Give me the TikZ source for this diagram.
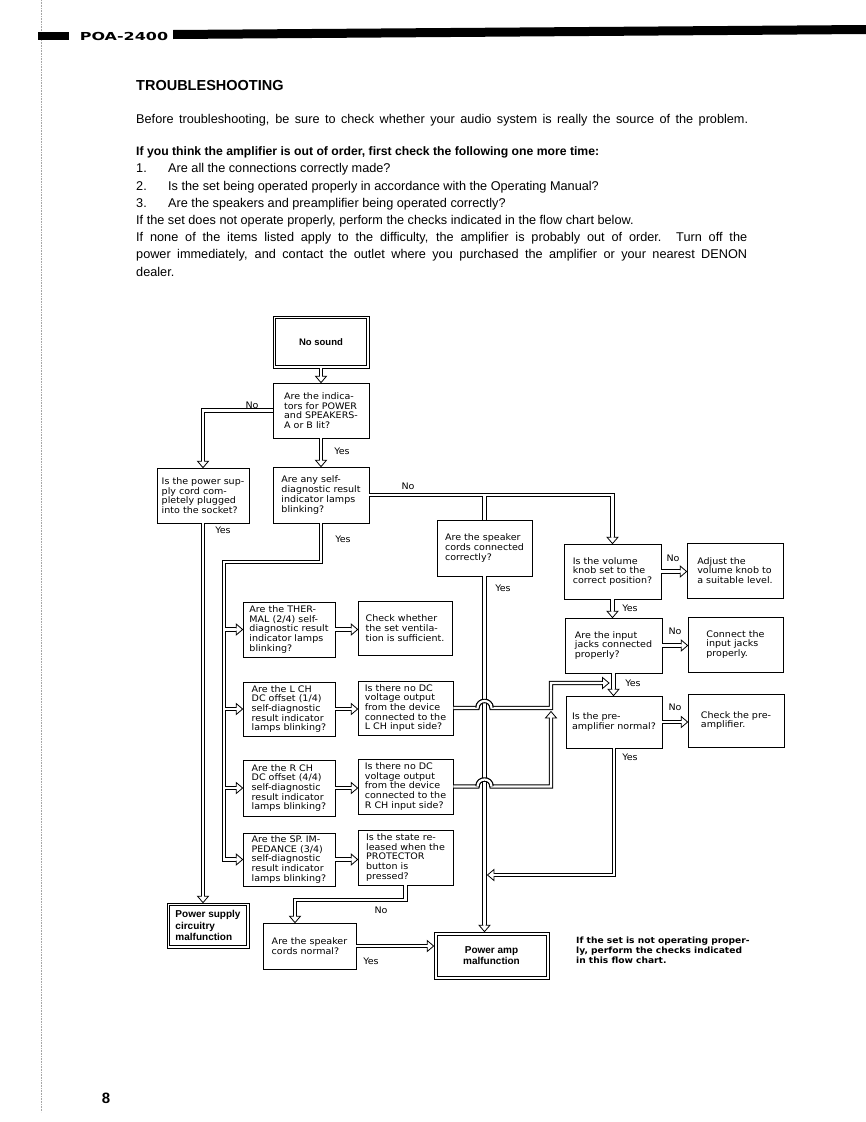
\documentclass[tikz,border=0pt]{standalone}
\usepackage{fontspec}
\usepackage{graphicx}
\setmainfont{Liberation Sans}
\newfontfamily\boxfont{DejaVu Sans}[FakeStretch=1.06]
\newfontfamily\hdrfont{DejaVu Sans}
\usetikzlibrary{decorations.markings}
\newcommand\dhead{%
  \fill[white] (0pt,0pt)--(-6.5pt,5.5pt)--(-6.5pt,-5.5pt)--cycle;
  \draw[black,line width=0.8pt,line join=miter] (-6.5pt,1.1pt)--(-6.5pt,5.5pt)--(0pt,0pt)--(-6.5pt,-5.5pt)--(-6.5pt,-1.1pt);}
\newcommand\allconns{%
  \path[dar] (nosound.south) -- (ind.north);
  \path[dar] (ind.west) -| (psu.north);
  \path[dar] (ind.south) -- (self.north);
  \path[dar] (self.east) -| (vol.north);
  \path[dln] (spk.north |- self.east) -- (spk.north);
  \path[dar] (spk.south) -- (spk.south |- pam.north);
  \path[dar] (vol.east) -- (vol.east -| adj.west);
  \path[dar] (vol.south) -- (vol.south |- inp.north);
  \path[dar] (inp.east) -- (inp.east -| con.west);
  \path[dar] (inp.south) -- (inp.south |- pre.north);
  \path[dar] (pre.east) -- (pre.east -| chk.west);
  \path[dar] (pre.south) |- (kc);
  \path[dar] (self.south) |- (bc) -- (bc |- spi.west) -- (spi.west);
  \path[dar] (bc |- thm.west) -- (thm.west);
  \path[dar] (bc |- lch.west) -- (lch.west);
  \path[dar] (bc |- rch.west) -- (rch.west);
  \path[dar] (psu.south) -- (psu.south |- psm.north);
  \path[dar] (thm.east) -- (thm.east -| ven.west);
  \path[dar] (lch.east) -- (lch.east -| ldc.west);
  \path[dar] (rch.east) -- (rch.east -| rdc.west);
  \path[dar] (spi.east) -- (spi.east -| pro.west);
  \path[dar] (ldc.east) -- (hl1) .. controls +(0,-9.33) and +(0,-9.33) .. (hl2) -- (lc) |- (lt);
  \path[dar] (rdc.east) -- (hr1) .. controls +(0,-9.33) and +(0,-9.33) .. (hr2) -- (rc) -- (rt);
  \path[dar] (pro.south) |- (qc) -- (qc |- spn.north);
  \path[dar] (spn.east) -- (spn.east -| pam.west);
}
\begin{document}
\begin{tikzpicture}[x=1pt,y=-1pt,
  box/.style={draw,line width=0.7pt,align=left,inner sep=1pt,font=\boxfont\fontsize{9}{9.7}\selectfont},
  dbox/.style={box},
  inframe/.style={line width=0.7pt},
  bfx/.style={font=\fontsize{10}{11.5}\selectfont\bfseries},
  lab/.style={inner sep=0pt,font=\boxfont\fontsize{9}{9.7}\selectfont},
  body/.style={anchor=base west,inner sep=0pt,font=\fontsize{12.7}{14}\selectfont},
  bodyb/.style={anchor=base west,inner sep=0pt,font=\fontsize{12.2}{14}\selectfont\bfseries},
  hop/.style={line width=#1},
]
\fill[white] (0,0) rectangle (866,1122);
\useasboundingbox (0,0) rectangle (866,1122);
% page edge and header
\draw[black!35,densely dotted,line width=0.6pt] (41,0) -- (41,1112);
\fill (38,32) rectangle (69,40);
\node[inner sep=0pt,font=\hdrfont\fontsize{11}{13}\selectfont\bfseries] (hdr) at (124,36) {\scalebox{1.45}[1]{POA-2400}};
\fill (173,30) -- (866,25) -- (866,34) -- (173,39) -- cycle;
% text
\node[body,font=\fontsize{14.5}{17}\selectfont\bfseries] (title) at (136,90) {TROUBLESHOOTING};
\node[body] (t1) at (136,123) {\makebox[612pt][s]{Before troubleshooting, be sure to check whether your audio system is really the source of the problem.}};
\node[bodyb] (t2) at (136,155) {If you think the amplifier is out of order, first check the following one more time:};
\node[body] (n1) at (136,172) {1.};
\node[body] (t3) at (168,172) {Are all the connections correctly made?};
\node[body] (n2) at (136,190) {2.};
\node[body] (t4) at (168,190) {Is the set being operated properly in accordance with the Operating Manual?};
\node[body] (n3) at (136,207) {3.};
\node[body] (t5) at (168,207) {Are the speakers and preamplifier being operated correctly?};
\node[body] (t6) at (136,224) {If the set does not operate properly, perform the checks indicated in the flow chart below.};
\node[body] (t7) at (136,241) {\makebox[611pt][s]{If none of the items listed apply to the difficulty, the amplifier is probably out of order. Turn off the}};
\node[body] (t8) at (136,258) {\makebox[611pt][s]{power immediately, and contact the outlet where you purchased the amplifier or your nearest DENON}};
\node[body] (t9) at (136,276) {dealer.};
% boxes
\node[dbox,minimum width=96,minimum height=52,font=\fontsize{9.5}{10}\selectfont\bfseries] (nosound) at (321,342) {No sound};
\node[box,minimum width=96,minimum height=55] (ind) at (321,410.5) {Are the indica-\\tors for POWER\\and SPEAKERS-\\A or B lit?};
\node[box,minimum width=92,minimum height=55] (psu) at (203,495.5) {Is the power sup-\\ply cord com-\\pletely plugged\\into the socket?};
\node[box,minimum width=96,minimum height=56] (self) at (321,495) {Are any self-\\diagnostic result\\indicator lamps\\blinking?};
\node[box,minimum width=95,minimum height=56] (spk) at (484.5,548) {Are the speaker\\cords connected\\correctly?};
\node[box,minimum width=97,minimum height=55] (vol) at (612.5,571.5) {Is the volume\\knob set to the\\correct position?};
\node[box,minimum width=96,minimum height=55] (adj) at (735,570.5) {Adjust the\\volume knob to\\a suitable level.};
\node[box,minimum width=97,minimum height=55] (inp) at (613.5,645.5) {Are the input\\jacks connected\\properly?};
\node[box,minimum width=95,minimum height=55] (con) at (735.5,644.5) {Connect the\\input jacks\\properly.};
\node[box,minimum width=96,minimum height=52] (pre) at (614,722) {Is the pre-\\amplifier normal?};
\node[box,minimum width=96,minimum height=53] (chk) at (736,720.5) {Check the pre-\\amplifier.};
\node[box,minimum width=92,minimum height=55] (thm) at (289,629.5) {Are the THER-\\MAL (2/4) self-\\diagnostic result\\indicator lamps\\blinking?};
\node[box,minimum width=94,minimum height=54] (ven) at (405,628) {Check whether\\the set ventila-\\tion is sufficient.};
\node[box,minimum width=92,minimum height=54] (lch) at (289,709) {Are the L CH\\DC offset (1/4)\\self-diagnostic\\result indicator\\lamps blinking?};
\node[box,minimum width=95,minimum height=54] (ldc) at (405.5,708) {Is there no DC\\voltage output\\from the device\\connected to the\\L CH input side?};
\node[box,minimum width=92,minimum height=56] (rch) at (289,788) {Are the R CH\\DC offset (4/4)\\self-diagnostic\\result indicator\\lamps blinking?};
\node[box,minimum width=95,minimum height=55] (rdc) at (405.5,786.5) {Is there no DC\\voltage output\\from the device\\connected to the\\R CH input side?};
\node[box,minimum width=92,minimum height=53] (spi) at (289,859.5) {Are the SP. IM-\\PEDANCE (3/4)\\self-diagnostic\\result indicator\\lamps blinking?};
\node[box,minimum width=95,minimum height=55] (pro) at (405.5,857.5) {Is the state re-\\leased when the\\PROTECTOR\\button is\\pressed?};
\node[dbox,bfx,minimum width=82,minimum height=45] (psm) at (208,925.5) {Power supply\\circuitry\\malfunction};
\node[box,minimum width=93,minimum height=46] (spn) at (309.5,946) {Are the speaker\\cords normal?};
\node[dbox,bfx,align=center,minimum width=115,minimum height=47] (pam) at (491.5,955.5) {Power amp\\malfunction};
% inner frames of the double-bordered boxes
\draw[inframe] ([shift={(3,3)}]nosound.north west) rectangle ([shift={(-3,-3)}]nosound.south east);
\draw[inframe] ([shift={(3,3)}]psm.north west) rectangle ([shift={(-3,-3)}]psm.south east);
\draw[inframe] ([shift={(3.5,3.5)}]pam.north west) rectangle ([shift={(-3.5,-3.5)}]pam.south east);
% junction coordinates
\coordinate (kc) at (487.5,875);
\coordinate (bc) at (224,562);
\coordinate (hl1) at (477.5,708);
\coordinate (hl2) at (491.5,708);
\coordinate (lc) at (551,708);
\coordinate (lt) at (609,683);
\coordinate (hr1) at (477.5,786.5);
\coordinate (hr2) at (491.5,786.5);
\coordinate (rc) at (551,786.5);
\coordinate (rt) at (551,711.5);
\coordinate (qc) at (295,900);
% connectors: outer black, inner white, bridges, heads
\begin{scope}[line join=miter,dar/.style={draw=black,line width=4.4pt,shorten >=3pt},dln/.style={draw=black,line width=4.4pt}]
  \allconns
\end{scope}
\begin{scope}[line join=miter,dar/.style={draw=white,line width=2.2pt,shorten >=3pt},dln/.style={draw=white,line width=2.2pt}]
  \allconns
\end{scope}
\draw[hop=4.4pt] (hl1) .. controls +(0,-9.33) and +(0,-9.33) .. (hl2);
\draw[hop=4.4pt] (hr1) .. controls +(0,-9.33) and +(0,-9.33) .. (hr2);
\draw[hop=2.2pt,white] (hl1) .. controls +(0,-9.33) and +(0,-9.33) .. (hl2);
\draw[hop=2.2pt,white] (hr1) .. controls +(0,-9.33) and +(0,-9.33) .. (hr2);
\begin{scope}[dar/.style={postaction={decorate,decoration={markings,mark=at position 1 with {\dhead}}}},dln/.style={}]
  \allconns
\end{scope}
% labels
\node[lab] (l1) at (252,405) {No};
\node[lab] (l2) at (342,451) {Yes};
\node[lab] (l3) at (223,530) {Yes};
\node[lab] (l4) at (408,486) {No};
\node[lab] (l5) at (343,539) {Yes};
\node[lab] (l6) at (503,588) {Yes};
\node[lab] (l7) at (673,558) {No};
\node[lab] (l8) at (630,608) {Yes};
\node[lab] (l9) at (675,631) {No};
\node[lab] (l10) at (633,683) {Yes};
\node[lab] (l11) at (675,707) {No};
\node[lab] (l12) at (630,757) {Yes};
\node[lab] (l13) at (381,910) {No};
\node[lab] (l14) at (371,961) {Yes};
% note and page number
\node[anchor=north west,inner sep=0pt,align=left,font=\boxfont\fontsize{8.6}{9.7}\selectfont\bfseries] (note) at (576,937) {If the set is not operating proper-\\ly, perform the checks indicated\\in this flow chart.};
\node[inner sep=0pt,font=\fontsize{15}{17}\selectfont\bfseries] (pg) at (106,1098) {8};
\end{tikzpicture}
\end{document}
